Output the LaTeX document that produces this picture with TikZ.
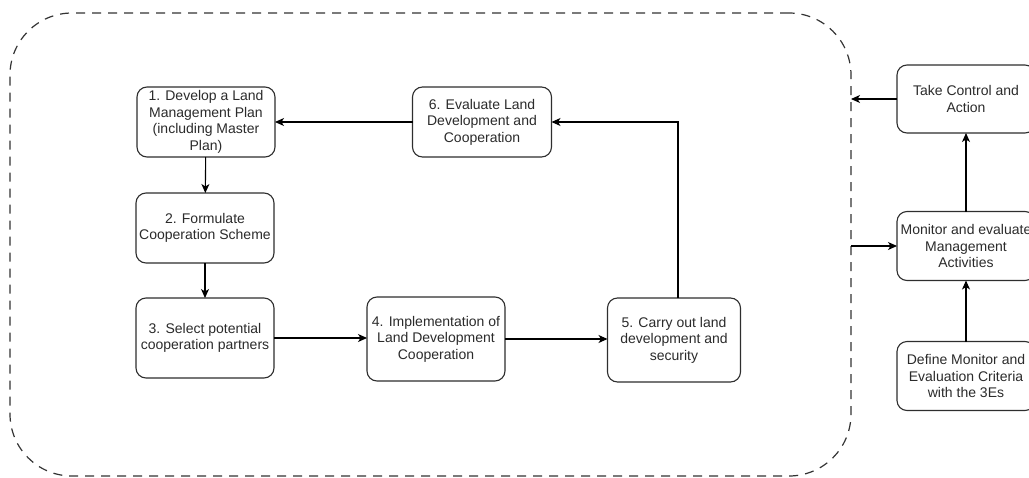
\documentclass[tikz,border=0pt]{standalone}
\usepackage{fontspec}
\setmainfont{Liberation Sans}
\usetikzlibrary{arrows.meta}
\definecolor{txtgray}{HTML}{2B2B2B}
\definecolor{linegray}{HTML}{2E2E2E}
\definecolor{dashgray}{HTML}{333333}
\begin{document}
\begin{tikzpicture}[x=1pt,y=-1pt,
  stepbox/.style={draw=linegray, line width=1.1pt, rounded corners=10pt,
    fill=white, align=center, text=txtgray, inner sep=0pt, outer sep=0pt,
    font=\fontsize{14}{16.5}\selectfont},
  flow/.style={draw=black, line width=1.1pt,
    -{Stealth[length=9pt,width=8pt,inset=2.5pt]}},
  frame/.style={draw=dashgray, line width=1.2pt, dash pattern=on 9pt off 7pt,
    rounded corners=62pt, inner sep=0pt, outer sep=0pt}]
\useasboundingbox (0,0) rectangle (1029,477);

% dashed boundary of the land development cycle
\node[frame, minimum width=841pt, minimum height=463pt] (cycle) at (430.5,244.5) {};

% cycle steps
\node[stepbox, minimum width=138pt, minimum height=70pt] (s1) at (206,122)
  {1. Develop a Land\\Management Plan\\(including Master\\Plan)};
\node[stepbox, minimum width=138pt, minimum height=70pt] (s2) at (205,228)
  {2. Formulate\\Cooperation Scheme};
\node[stepbox, minimum width=138pt, minimum height=80pt] (s3) at (205,338)
  {3. Select potential\\cooperation partners};
\node[stepbox, minimum width=138pt, minimum height=84pt] (s4) at (436,339)
  {4. Implementation of\\Land Development\\Cooperation};
\node[stepbox, minimum width=133pt, minimum height=84pt] (s5) at (674,340)
  {5. Carry out land\\development and\\security};
\node[stepbox, minimum width=139pt, minimum height=70pt] (s6) at (482,122)
  {6. Evaluate Land\\Development and\\Cooperation};

% monitoring column
\node[stepbox, minimum width=138pt, minimum height=68pt] (act) at (966,99)
  {Take Control and\\Action};
\node[stepbox, minimum width=138pt, minimum height=69pt] (mon) at (966,246)
  {Monitor and evaluate\\Management\\Activities};
\node[stepbox, minimum width=138pt, minimum height=69pt] (crit) at (966,376)
  {Define Monitor and\\Evaluation Criteria\\with the 3Es};

% connectors inside the cycle
\draw[flow] (s1) -- (s2);
\draw[flow] (s2) -- (s3);
\draw[flow] (s3.east) -- (s3.east -| s4.west);
\draw[flow] (s4.east) -- (s4.east -| s5.west);
\draw[flow] ([xshift=4pt]s5.north) |- (s6.east);
\draw[flow] (s6.west) -- (s1.east);

% connectors of the monitoring column
\draw[flow] (crit) -- (mon);
\draw[flow] (mon) -- (act);
\draw[flow] (act.west) -- (act.west -| cycle.east);
\draw[flow] (cycle.east |- mon.west) -- (mon.west);
\end{tikzpicture}
\end{document}
